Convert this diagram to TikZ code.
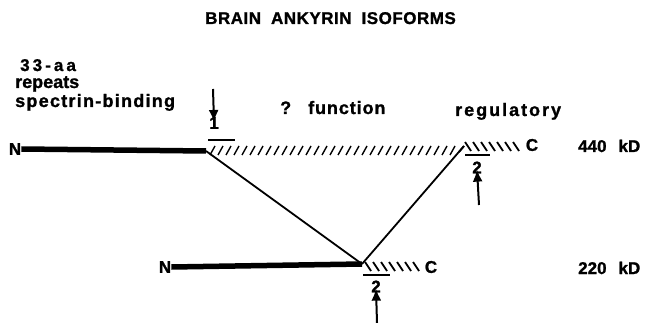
\documentclass[tikz,border=0pt]{standalone}
\usepackage{fontspec}
\setmainfont{Liberation Sans}
\newfontfamily\heavy{Liberation Sans Bold}[FakeBold=1.2]
\usetikzlibrary{arrows.meta,positioning}

\begin{document}
\begin{tikzpicture}[x=1pt,y=-1pt,
    lbl/.style={font=\heavy\fontsize{18}{20}\selectfont,inner sep=0pt,anchor=base west},
    tag/.style={font=\heavy\fontsize{17}{19}\selectfont,inner sep=0pt},
    bar/.style={line width=5.5pt},
    cap bar/.style={line width=2.5pt},
    hatch/.style={line width=1.4pt},
    link/.style={line width=1.8pt},
    site/.style={line width=2pt,-{Latex[length=12pt,width=10pt]}}]

    \useasboundingbox (0,0) rectangle (652,323);

    %% title
    \node[lbl,font=\heavy\fontsize{17}{19}\selectfont] (title) at (205,24)
        {\addfontfeature{LetterSpace=3}BRAIN\hspace{10pt}ANKYRIN\hspace{10pt}ISOFORMS};

    %% domain labels
    \node[lbl,font=\heavy\fontsize{17}{19}\selectfont,text depth=0pt] (aa) at (20,71) {\addfontfeature{LetterSpace=18}33-aa};
    \node[lbl,text height=9pt] (rep) at (15,88) {repeats};
    \node[lbl] (spec) at (15,107) {\addfontfeature{LetterSpace=7}spectrin-binding};
    \node[lbl] (qu) at (280,114) {?};
    \node[lbl] (func) at (308,114) {\addfontfeature{LetterSpace=5}function};
    \node[lbl] (reg) at (455,116) {\addfontfeature{LetterSpace=11}regulatory};

    %% 440 kD isoform
    \node[tag] (ntop) at (15,149) {N};
    \node[tag] (ctop) at (532,145) {C};
    \node[tag,anchor=base west] (ktop) at (578,152) {440\hspace{12pt}kD};
    \coordinate (jl) at (206,151);
    \coordinate (jr) at (464,146);
    \draw[bar] (ntop.east) -- (jl);
    \foreach \x in {210,218,...,454}
        \draw[hatch] (\x,155) -- (\x+5,146);
    \draw[hatch,line width=1.8pt] (459,152) -- (jr);
    \foreach \x in {465,473,...,513}
        \draw[hatch,line width=1.8pt] (\x,142) -- (\x+6,151);
    \draw[cap bar] (208,140) -- (235,140);
    \draw[cap bar] (465,155) -- (490,155);

    %% 220 kD isoform
    \node[tag] (nbot) at (165,267) {N};
    \node[tag] (cbot) at (431,267) {C};
    \node[tag,anchor=base west] (kbot) at (578,274) {220\hspace{12pt}kD};
    \coordinate (jb) at (362,264);
    \draw[bar] (nbot.east) -- (jb);
    \foreach \x in {365,373,...,413}
        \draw[hatch,line width=1.8pt] (\x,262) -- (\x+6,271);
    \draw[cap bar] (363,275) -- (390,275);

    %% splice links
    \draw[link] (jl) -- (jb);
    \draw[link] (jr) -- (jb);

    %% insertion sites
    \node[tag] (one) at (214,123) {1};
    \node[tag] (twotop) at (477,167.5) {2};
    \node[tag] (twobot) at (376,286.5) {2};
    \coordinate (s1) at (213,89);
    \coordinate (s2) at (479,205);
    \coordinate (s3) at (377,323);
    \draw[site] (s1) -- ([yshift=-5pt]one.north);
    \draw[site] (s2) -- ([yshift=4pt]twotop.south);
    \draw[site] (s3) -- ([yshift=4pt]twobot.south);

\end{tikzpicture}
\end{document}
